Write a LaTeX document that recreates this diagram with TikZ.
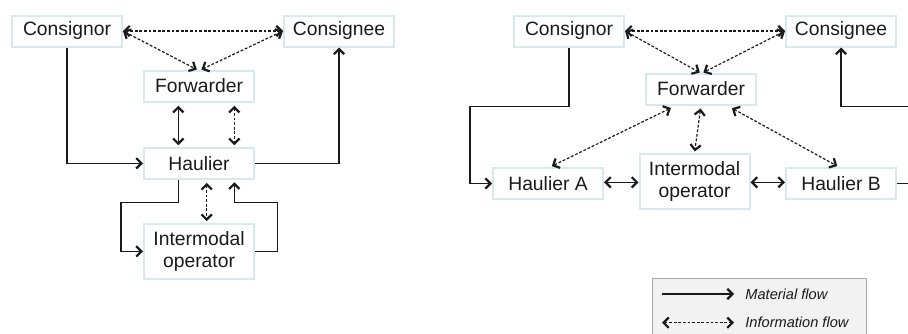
\documentclass[tikz,border=0pt]{standalone}
\usepackage{fontspec}
\setmainfont{Liberation Sans}
\usetikzlibrary{arrows.meta}
\definecolor{boxline}{HTML}{D5E9EF}
\definecolor{ink}{HTML}{1A1A1A}
\definecolor{legfill}{HTML}{F2F2F2}
\definecolor{legline}{HTML}{A6A6A6}

\begin{document}
\begin{tikzpicture}[x=0.5pt,y=-0.5pt,
  >={Straight Barb[length=2.6pt,width=5.2pt,line width=1.1pt]},
  party/.style={draw=boxline, line width=1pt, fill=white,
    minimum width=55pt, minimum height=15.5pt, inner sep=0pt,
    font=\fontsize{9.65}{11.3}\selectfont, text=ink, align=center},
  tallparty/.style={party, minimum height=27.7pt},
  mat/.style={draw=ink, line width=0.6pt},
  info/.style={draw=ink, line width=0.6pt, dash pattern=on 1.4pt off 0.9pt},
  legtext/.style={font=\fontsize{7.3}{9}\selectfont\itshape, text=ink, inner sep=0pt}
]
\useasboundingbox (0,0) rectangle (908,333);
\clip (0,0) rectangle (908,333);

% ---------- single haulier chain ----------
\node[party] (cor) at (67,31) {Consignor};
\node[party] (cee) at (339,31) {Consignee};
\node[party] (fwd) at (199,86) {Forwarder};
\node[party] (hau) at (199,163.3) {Haulier};
\node[tallparty] (iop) at (199,251.4) {Intermodal\\operator};

\coordinate (l1) at (121,202.3);
\coordinate (r1) at (277.3,202.3);

\draw[info,<->] (cor.east) -- (cee.west);
\draw[info,<->] (cor.east) -- ([xshift=-1.1pt]fwd.north);
\draw[info,<->] (cee.west) -- ([xshift=1.2pt]fwd.north);
\draw[mat,->] (cor.south) |- (hau.west);
\draw[mat,->] (hau.east) -| (cee.south);
\draw[mat,<->,shorten <=1.6pt,shorten >=0.8pt] ([xshift=-10.35pt]fwd.south) -- ([xshift=-10.35pt]hau.north);
\draw[info,<->,shorten <=1.6pt,shorten >=0.8pt] ([xshift=17.65pt]fwd.south) -- ([xshift=17.65pt]hau.north);
\draw[mat,->] ([xshift=-10.35pt]hau.south) |- (l1) |- (iop.west);
\draw[info,<->,shorten <=1.5pt,shorten >=0.8pt] ([xshift=3.85pt]hau.south) -- ([xshift=3.85pt]iop.north);
\draw[mat,->,shorten >=1.2pt] (iop.east) -| (r1) -| ([xshift=17.65pt]hau.south);

% ---------- chain with two hauliers ----------
\node[party] (cor2) at (569,31) {Consignor};
\node[party] (cee2) at (841,31) {Consignee};
\node[party] (fwd2) at (701,89) {Forwarder};
\node[party] (ha) at (548,183.5) {Haulier A};
\node[tallparty] (iop2) at (694.5,181.7) {Intermodal\\operator};
\node[party] (hb) at (841,183.5) {Haulier B};

\coordinate (a1) at (470,106.7);
\coordinate (b1) at (930,106.7);

\draw[info,<->] (cor2.east) -- (cee2.west);
\draw[info,<->] (cor2.east) -- ([xshift=-0.6pt]fwd2.north);
\draw[info,<->] (cee2.west) -- ([xshift=1.2pt]fwd2.north);
\draw[mat,->] (cor2.south) |- (a1) |- (ha.west);
\draw[mat,->] (hb.east) -| (b1) -| (cee2.south);
\draw[info,<->,shorten <=1.5pt,shorten >=0.8pt] (fwd2.south) -- (iop2.north);
\draw[info,<->,shorten <=2.8pt,shorten >=1pt] ([xshift=-12.5pt]fwd2.south) -- ([xshift=1pt]ha.north);
\draw[info,<->,shorten <=2.8pt,shorten >=1pt] ([xshift=13pt]fwd2.south) -- ([xshift=-1pt]hb.north);
\draw[mat,<->] ([yshift=0.6pt]ha.east) -- ([yshift=0.6pt]ha.east -| iop2.west);
\draw[mat,<->] ([yshift=0.6pt]hb.west -| iop2.east) -- ([yshift=0.6pt]hb.west);

% ---------- legend ----------
\node[draw=legline, line width=0.5pt, fill=legfill, anchor=north west,
      minimum width=107pt, minimum height=40pt, inner sep=0pt] (legend) at (652.3,278.3) {};
\coordinate (m1) at (662,294);
\coordinate (m2) at (734,294);
\coordinate (i1) at (662,322.7);
\coordinate (i2) at (734,322.7);
\draw[mat,->] (m1) -- (m2);
\draw[info,<->] (i1) -- (i2);
\node[legtext, anchor=west] (mtext) at (745,294) {Material flow};
\node[legtext, anchor=west] (itext) at (745,322.7) {Information flow};
\end{tikzpicture}
\end{document}
